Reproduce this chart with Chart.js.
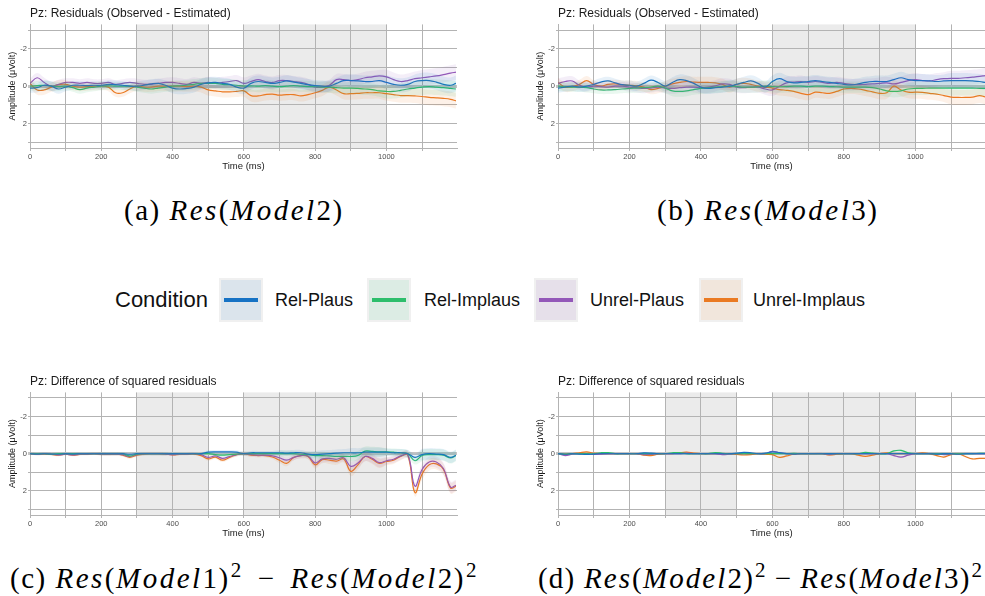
<!DOCTYPE html>
<html>
<head>
<meta charset="utf-8">
<script src="https://cdn.jsdelivr.net/npm/chart.js@4.4.1/dist/chart.umd.min.js"></script>
<style>
  body { margin: 0; background: #fff; width: 985px; height: 596px; position: relative; overflow: hidden; font-family: "Liberation Sans", Arial, sans-serif; }
  canvas { position: absolute; }
  .cap { position: absolute; font-family: "Liberation Serif", "Times New Roman", serif; font-size: 29px; line-height: 30px; white-space: nowrap; color: #000; letter-spacing: 1.5px; }
  .cap i { letter-spacing: 2.5px; }
  .cap sup { font-size: 21px; line-height: 0; margin-left: 1px; }
  .cap .op { margin: 0 15px; }
  .cap.tight { letter-spacing: 1.2px; }
  .cap.tight i { letter-spacing: 2.1px; }
  .cap.tight .op { margin: 0 8px; }
  .key { position: absolute; top: 278px; width: 40px; height: 40px; border: 2px solid #f0f0f0; }
  .key span { position: absolute; left: 3px; right: 3px; top: 18px; height: 4px; }
  .lab { position: absolute; font-size: 18px; line-height: 20px; top: 290px; color: #111; }
</style>
</head>
<body>
<canvas id="pa" width="470" height="172" style="left:0;top:0"></canvas>
<canvas id="pb" width="457" height="172" style="left:528px;top:0"></canvas>
<canvas id="pc" width="470" height="171" style="left:0;top:368px"></canvas>
<canvas id="pd" width="457" height="171" style="left:528px;top:368px"></canvas>

<div class="cap" style="left:124px;top:195px">(a) <i>Res</i>(<i>Model</i>2)</div>
<div class="cap" style="left:657px;top:195px">(b) <i>Res</i>(<i>Model</i>3)</div>
<div class="cap" style="left:10px;top:563px">(c) <i>Res</i>(<i>Model</i>1)<sup>2</sup><span class="op">−</span><i>Res</i>(<i>Model</i>2)<sup>2</sup></div>
<div class="cap tight" style="left:538px;top:563px">(d) <i>Res</i>(<i>Model</i>2)<sup>2</sup><span class="op">−</span><i>Res</i>(<i>Model</i>3)<sup>2</sup></div>

<div id="legend"></div>

<script>
// time points (ms)
const time = [0, 20, 40, 60, 80, 100, 120, 140, 160, 180, 200, 220, 240, 260, 280, 300, 320, 340, 360, 380,
  400, 420, 440, 460, 480, 500, 520, 540, 560, 580, 600, 620, 640, 660, 680, 700, 720, 740, 760, 780,
  800, 820, 840, 860, 880, 900, 920, 940, 960, 980, 1000, 1020, 1040, 1060, 1080, 1100, 1120, 1140, 1160, 1180, 1195];

const conditions = ["Rel-Plaus", "Rel-Implaus", "Unrel-Plaus", "Unrel-Implaus"];
const lineColors = ["#1672c4", "#2dbe6c", "#9358b8", "#ea7a22"];
const bandColors = ["rgba(22,114,196,0.10)", "rgba(45,190,108,0.10)", "rgba(147,88,184,0.10)", "rgba(234,122,34,0.10)"];
const keyColors = ["#dbe4ec", "#dcece4", "#e6e0ea", "#f1e6dc"];

const shadeStart = [300, 600];
const shadeEnd = [500, 1000];

// (a) Res(Model2)
const relPlausA = [0.1, 0.08, -0.05, 0, 0.15, 0.05, -0.05, -0.05, -0.03, -0.05, -0.05, -0.1, -0.08, -0.05, 0, 0, -0.05, -0.12, -0.15, -0.05,
  0.1, 0.15, 0.12, 0.05, -0.1, -0.18, -0.2, -0.15, -0.1, 0.05, 0.1, -0.15, -0.25, -0.2, -0.15, -0.2, -0.28, -0.22, -0.15, -0.08,
  -0.03, 0, 0, -0.15, -0.3, -0.3, -0.28, -0.25, -0.25, -0.3, -0.2, -0.1, -0.05, -0.1, -0.25, -0.3, -0.3, -0.22, -0.1, -0.05, -0.15];
const relImplausA = [0, -0.03, -0.05, 0, 0.02, 0, 0.08, 0.18, 0.1, 0.05, 0, -0.02, 0, 0, 0, 0.05, 0.1, 0.15, 0.1, 0.05,
  0, -0.02, -0.05, -0.1, -0.15, -0.15, -0.15, -0.1, -0.08, -0.05, 0, -0.02, 0, -0.03, 0, 0.02, 0, -0.03, 0, 0.02,
  0.03, 0.05, 0.05, 0.08, 0.1, 0.1, 0.12, 0.15, 0.18, 0.25, 0.28, 0.28, 0.22, 0.15, 0.1, 0.05, 0.02, 0.05, 0.08, 0.12, 0.15];
const unrelPlausA = [-0.15, -0.45, -0.2, 0, -0.1, -0.2, -0.2, -0.15, -0.2, -0.15, -0.15, -0.2, -0.1, -0.15, -0.2, -0.15, -0.1, -0.1, -0.15, -0.2,
  -0.2, -0.15, -0.1, -0.2, -0.15, -0.2, -0.15, -0.2, -0.25, -0.3, -0.15, -0.25, -0.35, -0.25, -0.2, -0.3, -0.3, -0.25, -0.2, -0.1,
  0.05, 0.05, -0.05, -0.35, -0.35, -0.3, -0.35, -0.45, -0.5, -0.55, -0.5, -0.35, -0.25, -0.3, -0.4, -0.45, -0.5, -0.55, -0.62, -0.7, -0.75];
const unrelImplausA = [-0.15, 0.2, 0.2, 0.05, -0.08, -0.1, 0, 0.05, 0.02, 0, -0.02, 0.05, 0.35, 0.35, 0.15, 0, 0.05, 0.05, 0, 0,
  0, 0, 0.02, 0, 0.05, 0.2, 0.25, 0.3, 0.3, 0.28, 0.25, 0.5, 0.52, 0.45, 0.42, 0.48, 0.45, 0.45, 0.52, 0.45,
  0.35, 0.22, 0.05, 0.2, 0.4, 0.4, 0.38, 0.35, 0.35, 0.35, 0.4, 0.45, 0.5, 0.5, 0.52, 0.55, 0.6, 0.62, 0.65, 0.7, 0.78];

// (b) Res(Model3)
const relPlausB = [0.1, 0.05, 0, 0.05, 0, -0.1, -0.22, -0.28, -0.18, -0.08, -0.05, 0, -0.15, -0.32, -0.2, 0, -0.2, -0.35, -0.3, -0.15,
  0.05, 0.12, 0.08, 0.05, 0, -0.1, -0.2, -0.28, -0.15, 0.05, -0.25, -0.4, -0.25, -0.18, -0.2, -0.25, -0.3, -0.25, -0.2, -0.15,
  -0.1, -0.07, -0.12, -0.2, -0.25, -0.25, -0.25, -0.35, -0.45, -0.35, -0.3, -0.3, -0.28, -0.25, -0.28, -0.3, -0.3, -0.3, -0.28, -0.25, -0.2];
const relImplausB = [0, 0.02, 0.05, 0.05, 0.08, 0.15, 0.2, 0.2, 0.18, 0.15, 0.12, 0.1, 0.08, 0.05, 0, 0.1, 0.25, 0.28, 0.25, 0.18,
  0.12, 0.08, 0.05, 0.02, 0, 0.02, 0.05, 0.05, 0.03, 0, 0.02, 0.03, 0.02, 0, 0, 0.02, 0, 0, 0.02, 0.03,
  0.05, 0.05, 0.05, 0.05, 0.08, 0.15, 0.25, 0.28, 0.25, 0.15, 0.12, 0.12, 0.1, 0.1, 0.1, 0.1, 0.1, 0.1, 0.1, 0.12, 0.12];
const unrelPlausB = [-0.15, -0.25, -0.28, -0.05, 0.05, 0, 0.02, 0.05, 0, 0, 0.05, 0.08, 0.12, 0.1, 0.05, 0.1, 0.12, 0.08, 0.05, 0.05,
  0.08, 0.05, -0.02, -0.12, -0.1, 0.05, 0.08, 0.05, 0.05, 0.15, 0.2, 0, -0.18, -0.22, -0.25, -0.2, -0.25, -0.2, -0.15, -0.2,
  -0.15, -0.1, -0.08, -0.1, -0.12, -0.15, -0.18, -0.12, -0.2, -0.3, -0.35, -0.3, -0.28, -0.35, -0.4, -0.42, -0.42, -0.45, -0.48, -0.52, -0.57];
const unrelImplausB = [-0.2, 0.05, 0.02, -0.1, -0.3, -0.1, 0, -0.1, -0.12, -0.08, -0.05, -0.02, 0.05, 0.18, 0.12, 0, -0.12, -0.2, -0.25, -0.22,
  -0.2, -0.2, -0.18, -0.1, 0.05, -0.1, -0.15, -0.1, 0, 0.05, 0.1, 0.18, 0.22, 0.28, 0.38, 0.45, 0.32, 0.35, 0.38, 0.28,
  0.15, 0.12, 0.15, 0.22, 0.3, 0.38, 0.35, 0, 0.2, 0.32, 0.32, 0.33, 0.38, 0.42, 0.5, 0.58, 0.6, 0.6, 0.58, 0.5, 0.57];

// (c) Res(Model1)^2 - Res(Model2)^2
const relPlausC = [0, 0.02, 0, 0.02, 0.03, 0, 0.02, 0, 0, 0, 0, 0, 0, 0, 0.03, 0, 0, 0, 0, 0,
  0, 0, 0, 0, 0, -0.08, -0.1, -0.1, -0.1, -0.08, 0, -0.05, -0.05, -0.05, -0.05, -0.05, -0.03, -0.05, -0.05, 0.02,
  0.05, 0.02, 0, -0.03, -0.05, -0.05, -0.05, -0.08, -0.08, -0.08, -0.08, -0.05, -0.05, 0, 0.2, 0.05, 0, 0.02, 0.05, 0.2, 0.08];
const relImplausC = [0, 0, 0, 0.02, 0, 0, 0, 0, 0, 0, 0, 0, 0, 0, 0.12, 0.02, 0, 0, 0, 0,
  0, 0, 0, 0, 0, 0, 0.05, 0.08, 0.05, 0.02, 0, 0, 0, 0, 0, 0, 0, 0, 0.03, 0.05,
  0.1, 0.1, 0.12, 0.14, 0.14, 0.15, 0.1, -0.14, -0.12, -0.1, -0.1, -0.08, -0.05, 0, 0.38, 0.1, 0.05, 0.05, 0.08, 0.23, 0.1];
const unrelPlausC = [0, 0.03, 0, 0.02, 0.06, 0.03, 0.06, 0.03, 0.02, 0, 0.02, 0.03, 0.02, 0.05, 0.15, 0.05, 0, 0, 0, 0.02,
  0.05, 0.03, 0.02, 0, 0.05, 0.2, 0.12, 0.25, 0.15, 0.05, 0, 0.05, 0.08, 0.08, 0.12, 0.22, 0.35, 0.2, 0.1, 0.12,
  0.5, 0.28, 0.25, 0.3, 0.22, 0.68, 0.5, 0.15, 0.25, 0.48, 0.38, 0.3, 0.12, 0.05, 1.75, 0.85, 0.45, 0.45, 0.8, 1.8, 1.7];
const unrelImplausC = [0, 0.03, 0.02, 0.04, 0.08, 0.03, 0.08, 0.04, 0.03, 0, 0.03, 0.04, 0.03, 0.08, 0.2, 0.08, 0.02, 0, 0, 0.02,
  0.06, 0.04, 0.03, 0.02, 0.1, 0.28, 0.18, 0.35, 0.2, 0.05, 0, 0.08, 0.1, 0.1, 0.18, 0.35, 0.52, 0.2, 0.1, 0.15,
  0.6, 0.32, 0.35, 0.4, 0.28, 0.95, 0.6, 0.15, 0.3, 0.52, 0.42, 0.35, 0.15, 0.08, 2.1, 1.1, 0.6, 0.55, 0.85, 1.85, 1.75];

// (d) Res(Model2)^2 - Res(Model3)^2
const relPlausD = [0, 0.03, 0, 0.02, 0.04, 0.02, 0, 0, 0, 0, 0, 0, -0.04, -0.03, 0, 0, 0, 0, 0, 0,
  0, 0, 0, 0, 0, -0.03, -0.07, -0.05, 0, -0.03, -0.1, -0.06, 0, 0.02, 0, 0, 0, 0, 0, 0,
  0, 0, 0, 0, 0, 0, 0, 0, 0, 0, 0, 0, 0, 0.02, 0, 0, 0.03, 0, 0, 0, 0];
const relImplausD = [0, 0.02, 0, 0, 0, 0, -0.05, -0.06, 0, 0, 0, 0, 0, 0, 0, 0, -0.05, -0.06, 0, 0,
  0, 0, -0.06, -0.02, 0, 0, 0, 0, 0, 0, 0, 0, 0, -0.02, 0, 0, 0, 0, 0, 0,
  0, 0, 0, -0.07, -0.03, 0, 0, -0.15, -0.18, -0.05, 0, 0, 0, 0, 0, 0, 0, 0, 0, -0.02, -0.02];
const unrelPlausD = [0, 0.1, 0.02, 0, 0, 0.04, 0.02, 0, 0, 0, 0, 0, 0.05, 0.04, 0, 0, 0, 0, -0.03, 0,
  0, 0, 0, 0.05, 0.03, 0, 0, 0, 0, 0, -0.12, -0.05, 0, 0, 0, 0, 0, 0, 0.05, 0,
  0, 0, 0, 0, 0, 0, 0, 0.1, 0.18, 0.08, 0, 0, 0, 0, 0.05, 0.02, 0, 0, 0, 0, 0];
const unrelImplausD = [0, 0.02, 0, -0.05, -0.1, -0.03, 0, 0, 0, 0, 0, 0, 0.08, 0.1, 0.03, 0, 0, -0.05, -0.08, -0.03,
  0, 0, 0, 0, 0, 0.04, 0.07, 0.05, 0, 0.03, 0.05, 0.2, 0.12, 0.03, 0, 0, 0, 0, 0.07, 0.03,
  0, 0, 0.08, 0.14, 0.08, 0, -0.05, 0, 0, 0, 0, -0.05, 0, 0.1, 0.18, 0.05, 0, 0.15, 0.28, 0.25, 0.25];

// ribbon half-widths, one per 100 ms block
const ciA = [0.25, 0.22, 0.22, 0.25, 0.28, 0.3, 0.32, 0.3, 0.3, 0.32, 0.38, 0.42];
const ciB = [0.25, 0.22, 0.25, 0.28, 0.3, 0.3, 0.32, 0.3, 0.3, 0.32, 0.35, 0.4];
const ciC = [0.06, 0.06, 0.08, 0.08, 0.06, 0.1, 0.1, 0.15, 0.2, 0.25, 0.2, 0.3];
const ciD = [0.03, 0.03, 0.03, 0.03, 0.03, 0.03, 0.04, 0.04, 0.04, 0.04, 0.05, 0.05];

// grid lines and labelled ticks
const xGrid = [0, 100, 200, 300, 400, 500, 600, 700, 800, 900, 1000, 1100];
const xTicks = [0, 200, 400, 600, 800, 1000];
const yGrid = [-3, -2, -1, 0, 1, 2, 3];
const yTicks = [-2, 0, 2];

Chart.defaults.font.family = '"Liberation Sans", Arial, sans-serif';

const shading = {
  id: "shading",
  beforeDraw(chart) {
    const { ctx, chartArea, scales } = chart;
    ctx.save();
    ctx.fillStyle = "#ebebeb";
    shadeStart.forEach((s, i) => {
      const x0 = scales.x.getPixelForValue(s);
      const x1 = scales.x.getPixelForValue(shadeEnd[i]);
      ctx.fillRect(x0, chartArea.top, x1 - x0, chartArea.bottom - chartArea.top);
    });
    ctx.restore();
  },
};

function ciAt(ci, t) {
  return ci[Math.min(ci.length - 1, Math.floor(t / 100))];
}

function mountPanel(id, title, series, ci, xMax, padRight) {
  const datasets = [];
  series.forEach((s, k) => {
    datasets.push({
      data: time.map((t, i) => ({ x: t, y: s[i] - ciAt(ci, t) })),
      borderWidth: 0, pointRadius: 0, fill: false, tension: 0.4,
    });
    datasets.push({
      data: time.map((t, i) => ({ x: t, y: s[i] + ciAt(ci, t) })),
      borderWidth: 0, pointRadius: 0, fill: "-1", backgroundColor: bandColors[k], tension: 0.4,
    });
  });
  series.forEach((s, k) => {
    datasets.push({
      label: conditions[k],
      data: time.map((t, i) => ({ x: t, y: s[i] })),
      borderColor: lineColors[k], borderWidth: 1.2, pointRadius: 0, fill: false, tension: 0.4,
    });
  });

  return new Chart(document.getElementById(id), {
    type: "line",
    data: { datasets },
    plugins: [shading],
    options: {
      responsive: false,
      animation: false,
      layout: { padding: { right: padRight, left: 0, top: 0, bottom: 0 } },
      plugins: {
        legend: { display: false },
        tooltip: { enabled: false },
        title: {
          display: true, text: title, align: "start", fullSize: false,
          color: "#1a1a1a", font: { size: 12, weight: "normal" }, padding: { top: 6.5, bottom: 3.5 },
        },
      },
      scales: {
        x: {
          type: "linear", min: 0, max: xMax,
          afterFit: (s) => { s.height = 24; },
          afterBuildTicks: (s) => { s.ticks = xGrid.map((v) => ({ value: v })); },
          ticks: {
            autoSkip: false, maxRotation: 0, minRotation: 0, padding: 1,
            color: "#4d4d4d", font: { size: 7.5 },
            callback: (v) => (xTicks.includes(v) ? String(v) : ""),
          },
          grid: { color: "#b3b3b3", tickLength: 3, lineWidth: 1 },
          border: { color: "#b3b3b3" },
          title: { display: true, text: "Time (ms)", color: "#1a1a1a", font: { size: 9.5 }, padding: { top: 0, bottom: 0 } },
        },
        y: {
          type: "linear", reverse: true, min: -3.3, max: 3.3,
          afterFit: (s) => { s.width = 30; },
          afterBuildTicks: (s) => { s.ticks = yGrid.map((v) => ({ value: v })); },
          ticks: {
            autoSkip: false, padding: 1,
            color: "#4d4d4d", font: { size: 7.5 },
            callback: (v) => (yTicks.includes(v) ? String(v) : ""),
          },
          grid: {
            tickLength: 2,
            color: (c) => (c.tick && c.tick.value === 0 ? "#c4c4c4" : "#b3b3b3"),
            lineWidth: (c) => (c.tick && c.tick.value === 0 ? 3 : 1),
          },
          border: { color: "#b3b3b3" },
          title: { display: true, text: "Amplitude (\u03bcVolt)", color: "#1a1a1a", font: { size: 9 }, padding: { top: 7.5, bottom: 0 } },
        },
      },
    },
  });
}

function mountLegend() {
  const box = document.getElementById("legend");
  const keyLeft = [219, 367, 534, 699];
  const labLeft = [275, 424, 590, 753];
  let html = `<div class="lab" style="left:115px;top:288px;font-size:22px;line-height:24px;">Condition</div>`;
  conditions.forEach((c, k) => {
    html += `<div class="key" style="left:${keyLeft[k]}px;background:${keyColors[k]}"><span style="background:${lineColors[k]}"></span></div>`;
    html += `<div class="lab" style="left:${labLeft[k]}px">${c}</div>`;
  });
  box.innerHTML = html;
}

mountPanel("pa", "Pz: Residuals (Observed - Estimated)", [relPlausA, relImplausA, unrelPlausA, unrelImplausA], ciA, 1198, 13);
mountPanel("pb", "Pz: Residuals (Observed - Estimated)", [relPlausB, relImplausB, unrelPlausB, unrelImplausB], ciB, 1195, 0);
mountPanel("pc", "Pz: Difference of squared residuals", [relPlausC, relImplausC, unrelPlausC, unrelImplausC], ciC, 1198, 13);
mountPanel("pd", "Pz: Difference of squared residuals", [relPlausD, relImplausD, unrelPlausD, unrelImplausD], ciD, 1195, 0);
mountLegend();
</script>
</body>
</html>
